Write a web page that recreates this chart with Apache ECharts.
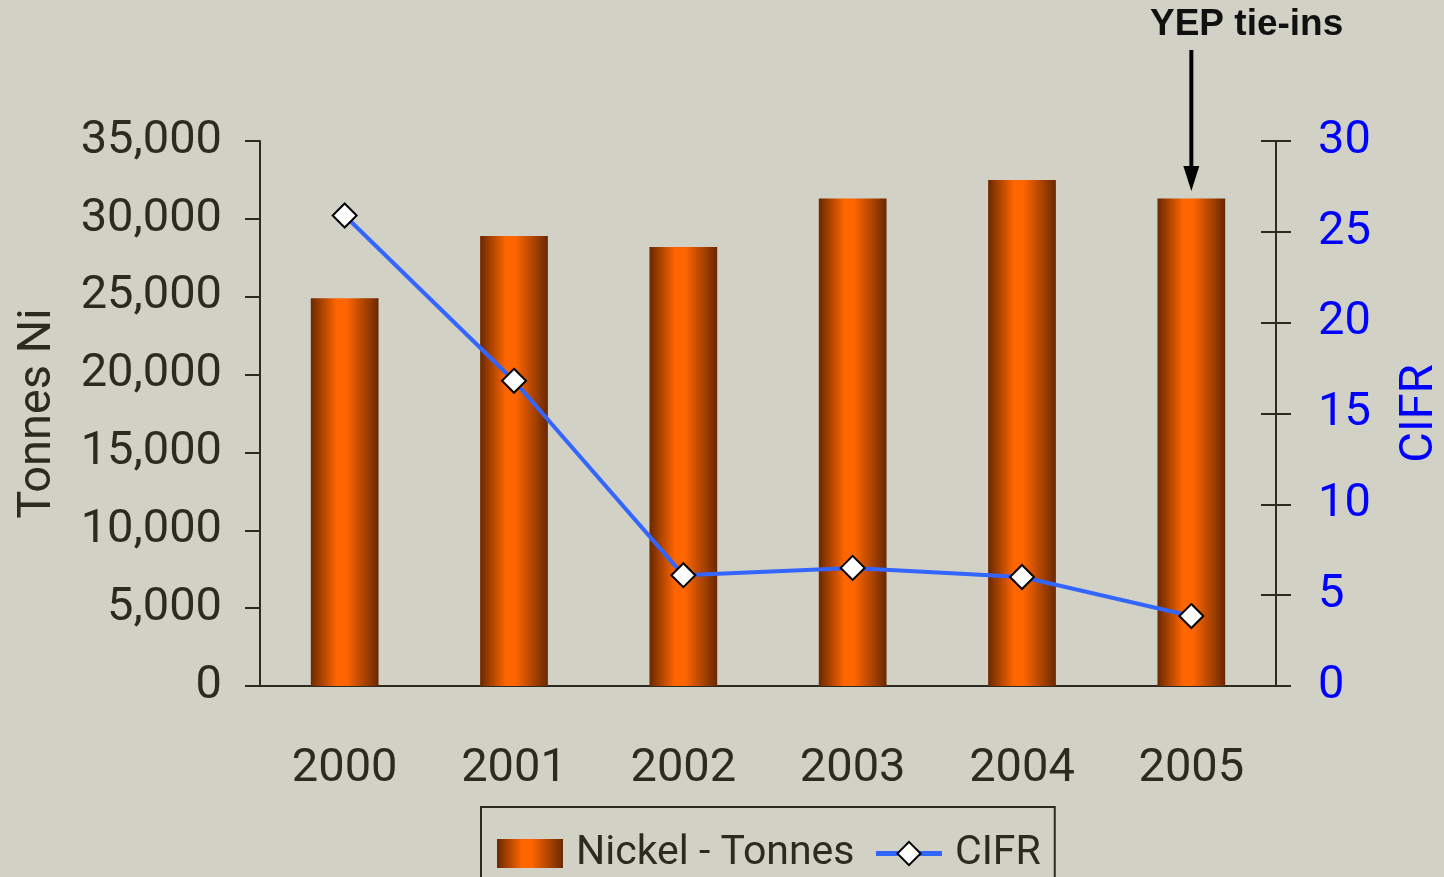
<!DOCTYPE html>
<html>
<head>
<meta charset="utf-8">
<script src="https://cdn.jsdelivr.net/npm/echarts@6/dist/echarts.min.js"></script>
<style>
html,body{margin:0;padding:0;background:#d1d1c6;}
#main{width:1444px;height:877px;}
</style>
</head>
<body>
<div id="main"></div>
<script>
var years = ['2000','2001','2002','2003','2004','2005'];
var nickelTonnes = [24900, 28900, 28200, 31300, 32500, 31300];
var cifr = [25.9, 16.8, 6.1, 6.5, 6.0, 3.85];
var annotationText = 'YEP tie-ins';
var annotationYear = '2005';

var FONT = 'Roboto, "Liberation Sans", sans-serif';
var DARK = '#2b2b22';

var chart = echarts.init(document.getElementById('main'));
var barGrad = new echarts.graphic.LinearGradient(0, 0, 1, 0, [
  {offset: 0, color: '#6a2800'},
  {offset: 0.38, color: '#ff6600'},
  {offset: 0.52, color: '#ff6600'},
  {offset: 1, color: '#6a2800'}
]);

chart.setOption({
  backgroundColor: '#d1d1c6',
  animation: false,
  grid: {left: 260, right: 168, top: 141, bottom: 191, containLabel: false, outerBoundsMode: 'none'},
  legend: {
    left: 481, top: 807,
    borderColor: DARK, borderWidth: 2,
    padding: [26, 14, 30, 16],
    itemWidth: 66, itemHeight: 29, itemGap: 19,
    textStyle: {fontFamily: FONT, fontSize: 41, color: DARK, padding: [0,0,0,8]},
    data: [
      {name: 'Nickel - Tonnes', icon: 'rect'},
      {name: 'CIFR', lineStyle: {width: 5}}
    ]
  },
  xAxis: {
    type: 'category', data: years,
    axisLine: {lineStyle: {color: DARK, width: 2}},
    axisTick: {length: 15, lineStyle: {color: DARK, width: 2}},
    axisLabel: {fontFamily: FONT, fontSize: 47, color: DARK, margin: 60}
  },
  yAxis: [
    {
      type: 'value', min: 0, max: 35000, interval: 5000, position: 'left',
      name: 'Tonnes Ni', nameLocation: 'middle', nameRotate: 90, nameGap: 222,
      nameTextStyle: {fontFamily: FONT, fontSize: 47, color: DARK, align: 'center', verticalAlign: 'middle'},
      axisLine: {show: true, lineStyle: {color: DARK, width: 2}},
      axisTick: {show: true, length: 15, lineStyle: {color: DARK, width: 2}},
      axisLabel: {fontFamily: FONT, fontSize: 47, color: DARK, margin: 38,
        formatter: function(v){ return v.toLocaleString('en-US'); }},
      splitLine: {show: false}
    },
    {
      type: 'value', min: 0, max: 30, interval: 5, position: 'right',
      name: 'CIFR', nameLocation: 'middle', nameRotate: 90, nameGap: 144,
      nameTextStyle: {fontFamily: FONT, fontSize: 47, color: '#0000ff', align: 'center', verticalAlign: 'middle'},
      axisLine: {show: true, lineStyle: {color: DARK, width: 2}},
      axisTick: {show: true, length: 15, lineStyle: {color: DARK, width: 2}},
      axisLabel: {fontFamily: FONT, fontSize: 47, color: '#0000ff', margin: 42},
      splitLine: {show: false}
    },
    {
      type: 'value', min: 0, max: 30, interval: 5, position: 'right',
      axisLine: {show: false},
      axisTick: {show: true, inside: true, length: 15, lineStyle: {color: DARK, width: 2}},
      axisLabel: {show: false},
      splitLine: {show: false}
    }
  ],
  series: [
    {
      name: 'Nickel - Tonnes', type: 'bar', data: nickelTonnes,
      yAxisIndex: 0, barCategoryGap: '60%',
      itemStyle: {color: barGrad}
    },
    {
      name: 'CIFR', type: 'line', data: cifr, yAxisIndex: 1,
      symbol: 'diamond', symbolSize: 24,
      lineStyle: {color: '#3366ff', width: 4},
      itemStyle: {color: '#ffffff', borderColor: '#000000', borderWidth: 2}
    }
  ]
});

var ax = chart.convertToPixel({xAxisIndex: 0}, annotationYear);
chart.setOption({
  graphic: [
    {type: 'line', shape: {x1: ax, y1: 50, x2: ax, y2: 172},
      style: {stroke: '#000', lineWidth: 4}},
    {type: 'polygon', shape: {points: [[ax - 8, 166], [ax + 8, 166], [ax, 191]]},
      style: {fill: '#000'}},
    {type: 'text', left: 1150, top: 6,
      style: {text: annotationText, font: 'bold 37px "Liberation Sans", Arial, sans-serif', fill: '#111'}}
  ]
});
</script>
</body>
</html>
